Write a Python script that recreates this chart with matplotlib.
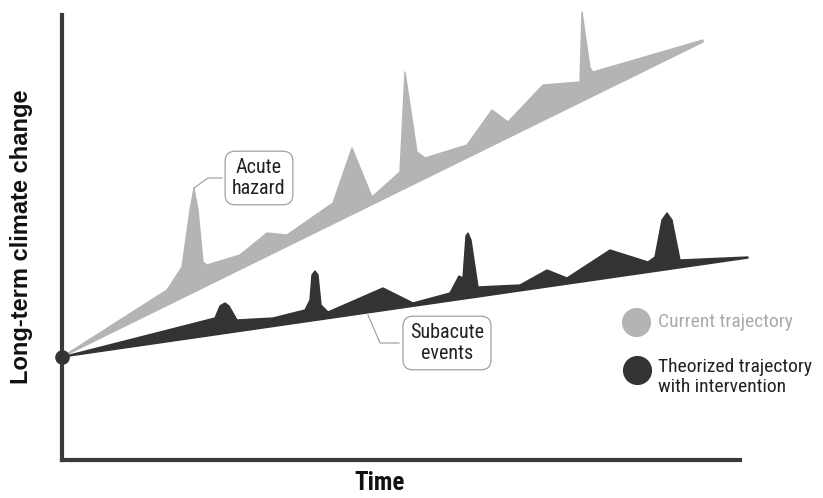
import matplotlib
matplotlib.use("Agg")
import matplotlib.pyplot as plt

W, H = 823, 498
NARROW = ['Liberation Sans Narrow', 'Roboto Condensed', 'Roboto', 'DejaVu Sans']
GRAY = '#b3b4b6'
DARK = '#333333'

# --- data (time units, change units; origin where both trajectories start) ---
start = (0, 103)

cur_t = [0, 105, 120, 128, 132, 136, 141, 145, 178, 205, 225, 271, 290, 310, 338, 343,
         355, 363, 405, 430, 446, 481, 518, 520, 528, 531, 641]
cur_top = [103, 170, 193, 250, 272, 250, 198, 195, 205, 227, 225, 257, 312, 263, 288, 388,
           308, 302, 315, 350, 338, 375, 378, 448, 392, 388, 420]
cur_base_t = [0, 641]
cur_base = [103, 418]

thr_t = [0, 153, 158, 163, 167, 175, 211, 243, 248, 250, 253, 256, 259, 266,
         321, 351, 388, 397, 401, 404, 406, 409, 416, 458, 485, 505, 548, 586,
         593, 600, 605, 610, 618, 686]
thr_top = [103, 142, 154, 157, 154, 140, 142, 150, 160, 185, 189, 185, 155, 148,
           172, 157, 167, 184, 182, 224, 227, 220, 173, 175, 190, 182, 210, 198,
           203, 240, 247, 240, 200, 203]
thr_base_t = [0, 686]
thr_base = [103, 202]

fig = plt.figure(figsize=(W / 100, H / 100), dpi=100)
ax = fig.add_axes([62 / W, 38 / H, 761 / W, 460 / H])
ax.set_xlim(0, 761)
ax.set_ylim(0, 460)
ax.set_xticks([])
ax.set_yticks([])
for s in ['top', 'right']:
    ax.spines[s].set_visible(False)
for s in ['left', 'bottom']:
    ax.spines[s].set_linewidth(3)
    ax.spines[s].set_color('#3a3a3a')
ax.spines['bottom'].set_bounds(0, 678)
ax.spines['left'].set_bounds(0, 445)

# current trajectory band
ax.fill(cur_t + cur_base_t[::-1], cur_top + cur_base[::-1], color=GRAY,
        lw=1, ec=GRAY, joinstyle='round', clip_on=False, zorder=2)
# theorized band
ax.fill(thr_t + thr_base_t[::-1], thr_top + thr_base[::-1], color=DARK,
        lw=1, ec=DARK, joinstyle='round', clip_on=False, zorder=3)
ax.scatter([start[0]], [start[1]], s=90, color=DARK, clip_on=False, zorder=5)

# callouts
box = dict(boxstyle='round,pad=0.35,rounding_size=0.5', fc='white', ec='#a0a0a0', lw=0.9)
ax.plot([132, 146, 160], [272, 282, 282], color='#999999', lw=0.8, zorder=4)
ax.text(197, 282, 'Acute\nhazard', ha='center', va='center', fontsize=14.5,
        family=NARROW, color='#222222', linespacing=1.1, bbox=box, zorder=6)
ax.plot([306, 318, 337], [145, 117, 117], color='#999999', lw=0.8, zorder=4)
ax.text(385, 117, 'Subacute\nevents', ha='center', va='center', fontsize=14.5,
        family=NARROW, color='#222222', linespacing=1.1, bbox=box, zorder=6)

# legend
ax.scatter([574], [138], s=440, color=GRAY, lw=0, clip_on=False)
ax.scatter([575], [90], s=440, color=DARK, lw=0, clip_on=False)
ax.text(596, 138, 'Current trajectory', ha='left', va='center', fontsize=14,
        family=NARROW, color='#a9aaac')
ax.text(596, 83, 'Theorized trajectory\nwith intervention', ha='left', va='center',
        fontsize=14, family=NARROW, color='#222222', linespacing=1.15)

fig.text(22 / W, 1 - 237 / H, 'Long-term climate change', rotation=90,
         ha='center', va='center', fontsize=17, fontweight='bold',
         family=['Liberation Sans', 'DejaVu Sans'], color='#111111')
fig.text(380 / W, 1 - 483 / H, 'Time', ha='center', va='center', fontsize=18,
         fontweight='bold', family=NARROW, color='#111111')

fig.savefig('out.png', dpi=100)
